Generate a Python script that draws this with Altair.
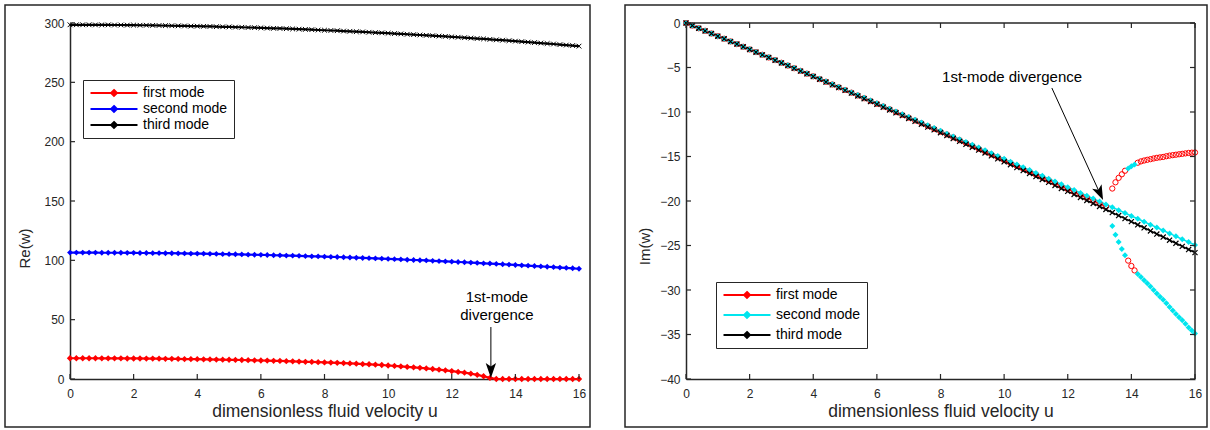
import altair as alt
import pandas as pd

# ---------------- data ----------------
U = [round(i * 0.2, 1) for i in range(81)]          # dimensionless fluid velocity u
MODES = ["first mode", "second mode", "third mode"]

LEFT_FIRST = [17.5, 17.5, 17.5, 17.5, 17.5, 17.4, 17.4, 17.4, 17.4, 17.3,
              17.3, 17.3, 17.2, 17.2, 17.1, 17.0, 17.0, 16.9, 16.8, 16.8,
              16.7, 16.6, 16.5, 16.4, 16.3, 16.2, 16.1, 16.0, 15.9, 15.7,
              15.6, 15.5, 15.3, 15.2, 15.0, 14.9, 14.7, 14.5, 14.4, 14.2,
              14.0, 13.8, 13.6, 13.4, 13.1, 12.9, 12.6, 12.4, 12.1, 11.8,
              11.4, 11.0, 10.6, 10.2, 9.8, 9.4, 8.9, 8.4, 7.9, 7.3,
              6.7, 6.0, 5.3, 4.5, 3.5, 2.3, 0.9, 0.0, 0.0, 0.0,
              0.0, 0.0, 0.0, 0.0, 0.0, 0.0, 0.0, 0.0, 0.0, 0.0,
              0.0]
LEFT_SECOND = [106.5, 106.5, 106.5, 106.5, 106.5, 106.4, 106.4, 106.4, 106.4, 106.3,
               106.3, 106.2, 106.2, 106.1, 106.1, 106.0, 106.0, 105.9, 105.8, 105.7,
               105.7, 105.6, 105.5, 105.4, 105.3, 105.2, 105.1, 105.0, 104.8, 104.7,
               104.6, 104.5, 104.3, 104.2, 104.0, 103.9, 103.8, 103.6, 103.4, 103.3,
               103.1, 102.9, 102.8, 102.6, 102.4, 102.2, 102.0, 101.8, 101.6, 101.4,
               101.2, 101.0, 100.8, 100.5, 100.3, 100.1, 99.9, 99.6, 99.4, 99.1,
               98.9, 98.6, 98.4, 98.1, 97.8, 97.5, 97.3, 97.0, 96.7, 96.4,
               96.1, 95.8, 95.5, 95.2, 94.9, 94.6, 94.3, 93.9, 93.6, 93.3,
               92.9]
LEFT_THIRD = [298.5, 298.5, 298.5, 298.5, 298.4, 298.4, 298.4, 298.3, 298.3, 298.2,
              298.2, 298.1, 298.1, 298.0, 297.9, 297.8, 297.7, 297.6, 297.5, 297.4,
              297.3, 297.2, 297.1, 296.9, 296.8, 296.7, 296.5, 296.4, 296.2, 296.1,
              295.9, 295.7, 295.5, 295.4, 295.2, 295.0, 294.8, 294.6, 294.4, 294.1,
              293.9, 293.7, 293.5, 293.2, 293.0, 292.7, 292.5, 292.2, 291.9, 291.7,
              291.4, 291.1, 290.8, 290.5, 290.2, 289.9, 289.6, 289.3, 289.0, 288.7,
              288.3, 288.0, 287.6, 287.3, 286.9, 286.6, 286.2, 285.8, 285.5, 285.1,
              284.7, 284.3, 283.9, 283.5, 283.1, 282.7, 282.3, 281.8, 281.4, 281.0,
              280.5]

# right panel: imaginary parts
RIGHT_FIRST_LINE = [0, -0.29, -0.59, -0.88, -1.18, -1.48, -1.77, -2.07, -2.37, -2.67,
                    -2.97, -3.27, -3.57, -3.87, -4.17, -4.47, -4.78, -5.08, -5.38, -5.69,
                    -5.99, -6.30, -6.60, -6.91, -7.22, -7.53, -7.83, -8.14, -8.45, -8.76,
                    -9.07, -9.38, -9.69, -10.01, -10.32, -10.63, -10.95, -11.26, -11.58, -11.89,
                    -12.21, -12.52, -12.84, -13.16, -13.48, -13.80, -14.12, -14.44, -14.76, -15.08,
                    -15.40, -15.72, -16.05, -16.37, -16.69, -17.02, -17.34, -17.67, -17.99, -18.32,
                    -18.65, -18.98, -19.30, -19.63, -19.96, -20.29, -20.62]   # u = 0 .. 13.2
RIGHT_SECOND = [0, -0.29, -0.59, -0.88, -1.18, -1.48, -1.77, -2.07, -2.37, -2.66,
                -2.96, -3.26, -3.56, -3.86, -4.16, -4.46, -4.76, -5.06, -5.36, -5.67,
                -5.97, -6.27, -6.58, -6.88, -7.19, -7.49, -7.80, -8.10, -8.41, -8.71,
                -9.02, -9.33, -9.64, -9.95, -10.26, -10.56, -10.87, -11.18, -11.50, -11.81,
                -12.12, -12.43, -12.74, -13.06, -13.37, -13.68, -14.00, -14.31, -14.63, -14.94,
                -15.26, -15.58, -15.89, -16.21, -16.53, -16.85, -17.17, -17.49, -17.81, -18.13,
                -18.45, -18.77, -19.09, -19.41, -19.73, -20.06, -20.38, -20.70, -21.03, -21.35,
                -21.68, -22.00, -22.33, -22.66, -22.98, -23.31, -23.64, -23.97, -24.30, -24.62,
                -24.95]
RIGHT_THIRD = [0, -0.29, -0.59, -0.89, -1.18, -1.48, -1.78, -2.08, -2.37, -2.67,
               -2.98, -3.28, -3.58, -3.88, -4.19, -4.49, -4.79, -5.10, -5.41, -5.71,
               -6.02, -6.33, -6.64, -6.95, -7.26, -7.57, -7.88, -8.20, -8.51, -8.83,
               -9.14, -9.46, -9.77, -10.09, -10.41, -10.73, -11.05, -11.37, -11.69, -12.01,
               -12.33, -12.65, -12.98, -13.30, -13.63, -13.95, -14.28, -14.60, -14.93, -15.26,
               -15.59, -15.92, -16.25, -16.58, -16.91, -17.25, -17.58, -17.91, -18.25, -18.59,
               -18.92, -19.26, -19.60, -19.94, -20.27, -20.61, -20.95, -21.30, -21.64, -21.98,
               -22.32, -22.67, -23.01, -23.36, -23.71, -24.05, -24.40, -24.75, -25.10, -25.45,
               -25.80]
BRANCH_U = [13.4, 13.5, 13.6, 13.7, 13.8, 13.9, 14.0, 14.1, 14.2, 14.3, 14.4, 14.5, 14.6, 14.7,
            14.8, 14.9, 15.0, 15.1, 15.2, 15.3, 15.4, 15.5, 15.6, 15.7, 15.8, 15.9, 16.0]
UPPER_BRANCH = [-18.6, -17.9, -17.4, -17.0, -16.6, -16.35, -16.1, -15.9, -15.7, -15.55,
                -15.45, -15.37, -15.3, -15.22, -15.15, -15.1, -15.05, -14.97, -14.9, -14.85,
                -14.8, -14.75, -14.7, -14.65, -14.6, -14.57, -14.55]
LOWER_BRANCH = [-22.8, -23.8, -24.6, -25.4, -26.1, -26.7, -27.3, -27.8, -28.2, -28.55,
                -28.9, -29.25, -29.6, -30.0, -30.4, -30.75, -31.1, -31.5, -31.9, -32.3,
                -32.7, -33.05, -33.4, -33.8, -34.2, -34.55, -34.9]
SWAPPED_U = [13.9, 14.0, 14.1]   # where first/second mode markers exchange branches

X_TICKS = [0, 2, 4, 6, 8, 10, 12, 14, 16]
Y_TICKS_LEFT = [0, 50, 100, 150, 200, 250, 300]
Y_TICKS_RIGHT = [0, -5, -10, -15, -20, -25, -30, -35, -40]

LEFT_NOTE = pd.DataFrame({"u": [13.42, 13.42], "v": [69.0, 54.0], "t": ["1st-mode", "divergence"]})
LEFT_ARROW = pd.DataFrame({"u": [13.23], "v": [43.8], "u2": [13.23], "v2": [6.0]})
LEFT_HEAD = pd.DataFrame({"u": [13.23], "v": [0.8]})
RIGHT_NOTE = pd.DataFrame({"u": [10.25], "v": [-6.07], "t": ["1st-mode divergence"]})
RIGHT_ARROW = pd.DataFrame({"u": [11.5], "v": [-7.3], "u2": [12.98], "v2": [-18.9]})
RIGHT_HEAD = pd.DataFrame({"u": [13.11], "v": [-19.9]})

# ---------------- styling ----------------
FONT = "Liberation Sans"
AX = "#262626"
W, H = 509, 356
XPATH = "M-1,-1L1,1M-1,1L1,-1"
HEAD = "M0,0L-0.45,-1.3L0,-1.0L0.45,-1.3Z"
LEG_PATH = "M-4,0H4M0,-0.5L0.5,0L0,0.5L-0.5,0Z"
NO_VIEW = alt.ViewBackground(strokeOpacity=0, strokeWidth=0)

xs = alt.Scale(domain=[0, 16], nice=False, zero=False)

X_AXIS = alt.Axis(values=X_TICKS, title="dimensionless fluid velocity u", ticks=False, grid=False,
                  domainColor=AX, domainWidth=1.5, labelPadding=9, labelFlush=False,
                  labelFont=FONT, labelFontSize=12, labelColor=AX,
                  titleFont=FONT, titleFontSize=17.5, titleFontWeight="normal", titleColor=AX,
                  titleY=37, titleBaseline="alphabetic")


def y_axis(vals, title, tx, ty):
    return alt.Axis(values=vals, title=title, ticks=False, grid=False,
                    domainColor=AX, domainWidth=1.5, labelPadding=6, labelFlush=False,
                    labelFont=FONT, labelFontSize=12, labelColor=AX,
                    titleFont=FONT, titleFontSize=15, titleFontWeight="normal", titleColor=AX,
                    titleX=tx, titleY=ty, titleAngle=270, titleAlign="center", titleBaseline="bottom")


def legend(lx, ly, rowpad):
    return alt.Legend(title=None, orient="none", legendX=lx, legendY=ly,
                      symbolType=LEG_PATH, symbolSize=138, symbolStrokeWidth=2,
                      symbolOffset=18, labelOffset=22, labelFont=FONT, labelFontSize=14,
                      labelColor="black", strokeColor=AX, fillColor="white",
                      padding=6, rowPadding=rowpad)


def frame(x1, x2):
    return alt.Chart(pd.DataFrame({"a": [0]})).mark_rect(
        fillOpacity=0, stroke=AX, strokeWidth=1.5
    ).encode(x=alt.value(x1), x2=alt.value(x2), y=alt.value(-18), y2=alt.value(H + 48))


def panel_layers(ys, yaxis, yvals, box, note, arrow, head, angle):
    def X(f):
        return alt.X(f, scale=xs, axis=X_AXIS)

    def Y(f):
        return alt.Y(f, scale=ys, axis=yaxis)

    tx = pd.DataFrame({"t": X_TICKS})
    ty = pd.DataFrame({"t": yvals})
    one = pd.DataFrame({"a": [0]})
    out = [
        alt.Chart(tx).mark_rule(color=AX, strokeWidth=1.2).encode(
            x=X("t:Q"), y=alt.value(H), y2=alt.value(H - 5)),
        alt.Chart(ty).mark_rule(color=AX, strokeWidth=1.2).encode(
            y=Y("t:Q"), x=alt.value(0), x2=alt.value(5)),
    ]
    if box:
        out += [
            alt.Chart(tx).mark_rule(color=AX, strokeWidth=1.2).encode(
                x=X("t:Q"), y=alt.value(0), y2=alt.value(5)),
            alt.Chart(ty).mark_rule(color=AX, strokeWidth=1.2).encode(
                y=Y("t:Q"), x=alt.value(W), x2=alt.value(W - 5)),
            alt.Chart(one).mark_rule(color=AX, strokeWidth=1.5).encode(
                x=alt.value(0), x2=alt.value(W), y=alt.value(0)),
            alt.Chart(one).mark_rule(color=AX, strokeWidth=1.5).encode(
                x=alt.value(W), y=alt.value(0), y2=alt.value(H)),
        ]
    out += [
        alt.Chart(note).mark_text(font=FONT, fontSize=15, color="black", align="center",
                                  baseline="middle").encode(x=X("u:Q"), y=Y("v:Q"), text="t:N"),
        alt.Chart(arrow).mark_rule(color="black", strokeWidth=1).encode(
            x=X("u:Q"), y=Y("v:Q"), x2="u2:Q", y2="v2:Q"),
        alt.Chart(head).mark_point(shape=HEAD, filled=True, size=530, color="black",
                                   opacity=1, angle=angle).encode(x=X("u:Q"), y=Y("v:Q")),
    ]
    return out


def pts(df, ys, yaxis, cs, **kw):
    return alt.Chart(df).mark_point(opacity=1, **kw).encode(
        x=alt.X("u:Q", scale=xs, axis=X_AXIS), y=alt.Y("v:Q", scale=ys, axis=yaxis),
        color=alt.Color("mode:N", scale=cs, legend=None))


# ---------------- left panel ----------------
ysL = alt.Scale(domain=[0, 300], nice=False, zero=False)
yaL = y_axis(Y_TICKS_LEFT, "Re(w)", -38, H / 2 + 47)
csL = alt.Scale(domain=MODES, range=["#ff0000", "#0000ff", "#000000"])
left_df = pd.DataFrame({"u": U * 3, "v": LEFT_FIRST + LEFT_SECOND + LEFT_THIRD,
                        "mode": [MODES[0]] * 81 + [MODES[1]] * 81 + [MODES[2]] * 81})

left_lines = alt.Chart(left_df).mark_line(strokeWidth=2.2).encode(
    x=alt.X("u:Q", scale=xs, axis=X_AXIS),
    y=alt.Y("v:Q", scale=ysL, axis=yaL),
    color=alt.Color("mode:N", scale=csL, legend=legend(13, 57, 2)),
)
left = alt.layer(
    frame(-65, W + 11),
    left_lines,
    pts(left_df[left_df["mode"] == MODES[0]], ysL, yaL, csL, shape="diamond", filled=True, size=40),
    pts(left_df[left_df["mode"] == MODES[1]], ysL, yaL, csL, shape="diamond", filled=True, size=34),
    pts(left_df[left_df["mode"] == MODES[2]], ysL, yaL, csL, shape=XPATH, filled=False, size=22,
        strokeWidth=1),
    *panel_layers(ysL, yaL, Y_TICKS_LEFT, False, LEFT_NOTE, LEFT_ARROW, LEFT_HEAD, 0),
).properties(width=W, height=H, view=NO_VIEW)

# ---------------- right panel ----------------
ysR = alt.Scale(domain=[-40, 0], nice=False, zero=False)
yaR = y_axis(Y_TICKS_RIGHT, "Im(w)", -34, H / 2 + 45)
csR = alt.Scale(domain=MODES, range=["#ff0000", "#00e5ee", "#000000"])

n_line = len(RIGHT_FIRST_LINE)
red_u = U[:n_line] + BRANCH_U
red_v = RIGHT_FIRST_LINE + [lo if bu in SWAPPED_U else up
                            for bu, up, lo in zip(BRANCH_U, UPPER_BRANCH, LOWER_BRANCH)]
cyan_u = U + BRANCH_U
cyan_v = RIGHT_SECOND + [up if bu in SWAPPED_U else lo
                         for bu, up, lo in zip(BRANCH_U, UPPER_BRANCH, LOWER_BRANCH)]
red_df = pd.DataFrame({"u": red_u, "v": red_v, "mode": MODES[0]})
cyan_df = pd.DataFrame({"u": cyan_u, "v": cyan_v, "mode": MODES[1]})
black_df = pd.DataFrame({"u": U, "v": RIGHT_THIRD, "mode": MODES[2]})
line_df = pd.DataFrame({"u": U[:n_line] + U + U,
                        "v": RIGHT_FIRST_LINE + RIGHT_SECOND + RIGHT_THIRD,
                        "mode": [MODES[0]] * n_line + [MODES[1]] * 81 + [MODES[2]] * 81})

right_lines = alt.Chart(line_df).mark_line(strokeWidth=1.5).encode(
    x=alt.X("u:Q", scale=xs, axis=X_AXIS),
    y=alt.Y("v:Q", scale=ysR, axis=yaR),
    color=alt.Color("mode:N", scale=csR, legend=legend(30, 259, 6)),
)
right = alt.layer(
    frame(-61, W + 12),
    right_lines,
    pts(red_df, ysR, yaR, csR, shape="circle", filled=False, size=28, strokeWidth=1),
    pts(cyan_df, ysR, yaR, csR, shape="diamond", filled=True, size=36),
    pts(black_df, ysR, yaR, csR, shape=XPATH, filled=False, size=26, strokeWidth=1.2),
    *panel_layers(ysR, yaR, Y_TICKS_RIGHT, True, RIGHT_NOTE, RIGHT_ARROW, RIGHT_HEAD, 335.5),
).properties(width=W, height=H, view=NO_VIEW)

chart = alt.hconcat(left, right, spacing=33).resolve_scale(color="independent").resolve_legend(
    color="independent"
).properties(
    padding={"left": 4, "top": 4, "right": 0, "bottom": 0}
).configure_view(strokeWidth=0, strokeOpacity=0).configure(font=FONT)

chart.save("out.html", embed_options={"renderer": "svg", "actions": False})
